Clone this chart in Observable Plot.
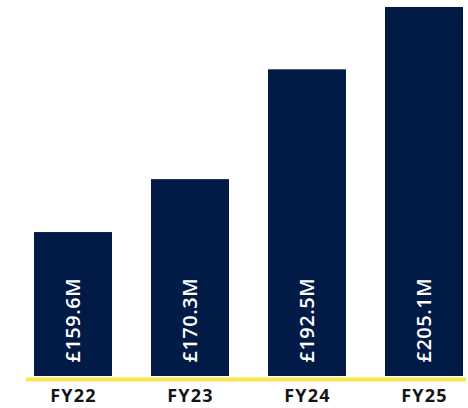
<!DOCTYPE html>
<html>
<head>
<meta charset="utf-8">
<script src="https://cdn.jsdelivr.net/npm/d3@7"></script>
<script src="https://cdn.jsdelivr.net/npm/@observablehq/plot@0.6"></script>
<style>
  html, body { margin: 0; padding: 0; background: #ffffff; }
  #chart svg { display: block; }
  #chart svg text.vlabel { letter-spacing: 0.5px; }
  #chart svg g[aria-label="x-axis tick label"] text { letter-spacing: 1.2px; }
</style>
</head>
<body>
<div id="chart"></div>
<script>
const years = ["FY22", "FY23", "FY24", "FY25"];
const revenue = [159.6, 170.3, 192.5, 205.1];
const valueLabels = ["£159.6M", "£170.3M", "£192.5M", "£205.1M"];
const yMin = 130.5;

const data = years.map((y, i) => ({year: y, value: revenue[i], label: valueLabels[i]}));

const chart = Plot.plot({
  width: 468,
  height: 408,
  marginTop: 7,
  marginBottom: 32,
  marginLeft: 33,
  marginRight: 4,
  style: {fontFamily: "'Open Sans', sans-serif", background: "#ffffff"},
  x: {domain: years, paddingInner: 0.337, paddingOuter: 0, label: null},
  y: {domain: [yMin, revenue[3]], axis: null},
  marks: [
    Plot.barY(data, {x: "year", y1: yMin, y2: "value", fill: "#011a46"}),
    Plot.ruleY([yMin], {stroke: "#fbe54b", strokeWidth: 4, dy: 3, insetLeft: -7, insetRight: -2}),
    Plot.text(data, {
      x: "year", y: yMin, text: "label", rotate: -90, textAnchor: "start",
      lineAnchor: "middle", dy: -14, fill: "#ffffff", fontSize: 20, fontWeight: 600,
      className: "vlabel"
    }),
    Plot.axisX({tickSize: 0, tickPadding: 13, fontSize: 18, fontWeight: 700, color: "#141414", label: null})
  ]
});
document.getElementById("chart").appendChild(chart);
d3.select(chart).selectAll("g[aria-label='text'] text").classed("vlabel", true);
</script>
</body>
</html>
